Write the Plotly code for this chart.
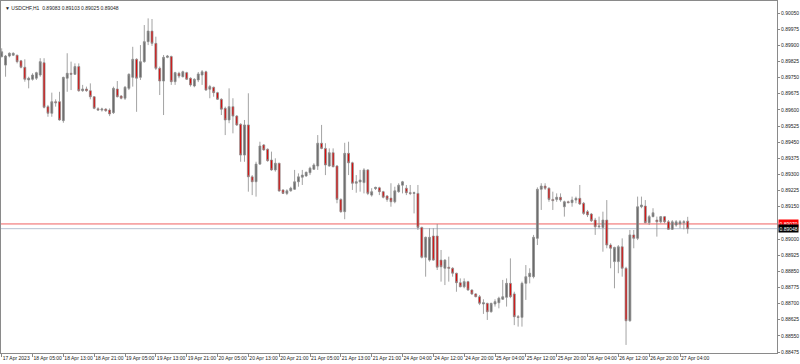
import plotly.graph_objects as go

symbol = "USDCHF,H1"

opens = [0.89847,0.89808,0.89850,0.89854,0.89854,0.89828,0.89798,0.89739,0.89742,0.89747,
0.89762,0.89819,0.89615,0.89584,0.89638,0.89638,0.89550,0.89747,0.89770,0.89765,
0.89801,0.89689,0.89697,0.89689,0.89661,0.89605,0.89599,0.89604,0.89599,0.89587,
0.89697,0.89664,0.89654,0.89700,0.89751,0.89835,0.89751,0.89824,0.89917,0.89966,
0.89909,0.89793,0.89734,0.89844,0.89848,0.89731,0.89770,0.89754,0.89773,0.89747,
0.89711,0.89739,0.89762,0.89777,0.89696,0.89705,0.89680,0.89649,0.89607,0.89553,
0.89615,0.89571,0.89533,0.89390,0.89530,0.89289,0.89266,0.89348,0.89437,0.89417,
0.89367,0.89321,0.89352,0.89228,0.89212,0.89224,0.89231,0.89266,0.89287,0.89293,
0.89308,0.89324,0.89339,0.89445,0.89421,0.89339,0.89401,0.89339,0.89184,0.89127,
0.89398,0.89354,0.89259,0.89265,0.89262,0.89321,0.89204,0.89234,0.89238,0.89220,
0.89200,0.89190,0.89173,0.89220,0.89250,0.89236,0.89215,0.89212,0.89212,0.89054,
0.88915,0.88902,0.89014,0.89014,0.88902,0.88864,0.88869,0.88864,0.88841,0.88797,
0.88778,0.88802,0.88763,0.88745,0.88732,0.88698,0.88701,0.88662,0.88698,0.88704,
0.88720,0.88729,0.88794,0.88745,0.88639,0.88636,0.88794,0.88825,0.88825,0.89003,
0.89231,0.89246,0.89236,0.89184,0.89184,0.89194,0.89150,0.89173,0.89169,0.89181,
0.89189,0.89166,0.89127,0.89116,0.89088,0.89057,0.89054,0.89088,0.88972,0.88895,
0.88895,0.88964,0.88864,0.88620,0.89019,0.89003,0.89150,0.89153,0.89076,0.89104,
0.89088,0.89080,0.89104,0.89080,0.89045,0.89065,0.89070,0.89076,0.89083]

highs = [0.89886,0.89855,0.89867,0.89867,0.89856,0.89832,0.89835,0.89754,0.89770,0.89777,
0.89840,0.89840,0.89623,0.89680,0.89649,0.89684,0.89754,0.89863,0.89824,0.89816,
0.89816,0.89716,0.89708,0.89723,0.89664,0.89612,0.89610,0.89607,0.89607,0.89708,
0.89734,0.89669,0.89711,0.89770,0.89893,0.89840,0.89901,0.89994,0.90025,0.90022,
0.89940,0.89801,0.89855,0.89855,0.89852,0.89777,0.89777,0.89782,0.89777,0.89751,
0.89747,0.89776,0.89785,0.89782,0.89716,0.89708,0.89684,0.89654,0.89615,0.89700,
0.89654,0.89576,0.89538,0.89553,0.89677,0.89297,0.89359,0.89452,0.89441,0.89421,
0.89406,0.89375,0.89354,0.89231,0.89231,0.89243,0.89321,0.89305,0.89321,0.89313,
0.89336,0.89352,0.89483,0.89530,0.89445,0.89421,0.89421,0.89344,0.89189,0.89447,
0.89452,0.89359,0.89297,0.89321,0.89329,0.89324,0.89236,0.89243,0.89243,0.89224,
0.89204,0.89259,0.89243,0.89259,0.89270,0.89251,0.89251,0.89220,0.89251,0.89057,
0.89011,0.89050,0.89050,0.89070,0.88949,0.88906,0.88918,0.88869,0.88843,0.88817,
0.88817,0.88806,0.88766,0.88748,0.88740,0.88720,0.88704,0.88704,0.88720,0.88732,
0.88810,0.88817,0.88910,0.88755,0.88647,0.88802,0.88879,0.88864,0.89019,0.89240,
0.89259,0.89259,0.89240,0.89220,0.89212,0.89212,0.89178,0.89178,0.89197,0.89197,
0.89251,0.89172,0.89135,0.89121,0.89098,0.89104,0.89127,0.89181,0.88980,0.88964,
0.88972,0.89003,0.88871,0.89042,0.89042,0.89197,0.89197,0.89181,0.89112,0.89143,
0.89104,0.89107,0.89107,0.89088,0.89088,0.89088,0.89088,0.89088,0.89103]

lows = [0.89844,0.89754,0.89844,0.89850,0.89816,0.89793,0.89731,0.89700,0.89736,0.89739,
0.89754,0.89607,0.89568,0.89568,0.89615,0.89550,0.89540,0.89684,0.89692,0.89762,
0.89684,0.89684,0.89684,0.89649,0.89603,0.89596,0.89592,0.89591,0.89571,0.89581,
0.89658,0.89649,0.89646,0.89692,0.89708,0.89591,0.89739,0.89819,0.89901,0.89897,
0.89785,0.89669,0.89576,0.89840,0.89716,0.89716,0.89747,0.89751,0.89739,0.89708,
0.89705,0.89729,0.89716,0.89689,0.89654,0.89661,0.89646,0.89576,0.89483,0.89538,
0.89491,0.89525,0.89359,0.89359,0.89220,0.89204,0.89197,0.89344,0.89410,0.89359,
0.89317,0.89313,0.89220,0.89209,0.89204,0.89220,0.89228,0.89243,0.89251,0.89289,
0.89297,0.89321,0.89321,0.89417,0.89297,0.89336,0.89333,0.89166,0.89122,0.89092,
0.89297,0.89228,0.89215,0.89220,0.89212,0.89204,0.89197,0.89228,0.89204,0.89189,
0.89173,0.89150,0.89166,0.89215,0.89212,0.89204,0.89204,0.89119,0.89042,0.88910,
0.88825,0.88895,0.88899,0.88856,0.88802,0.88786,0.88802,0.88825,0.88755,0.88776,
0.88771,0.88760,0.88740,0.88729,0.88693,0.88652,0.88624,0.88658,0.88686,0.88678,
0.88717,0.88686,0.88725,0.88600,0.88593,0.88593,0.88717,0.88794,0.88817,0.88972,
0.89135,0.89228,0.89173,0.89135,0.89173,0.89173,0.89104,0.89166,0.89150,0.89166,
0.89158,0.89112,0.89102,0.89079,0.89019,0.89050,0.88941,0.88957,0.88864,0.88771,
0.88841,0.88825,0.88508,0.88616,0.88957,0.88995,0.89143,0.89073,0.89065,0.89101,
0.89011,0.89073,0.89073,0.89042,0.89042,0.89057,0.89050,0.89045,0.89025]

closes = [0.89870,0.89850,0.89863,0.89863,0.89824,0.89798,0.89742,0.89747,0.89762,0.89773,
0.89824,0.89612,0.89584,0.89638,0.89633,0.89553,0.89751,0.89770,0.89765,0.89801,
0.89689,0.89697,0.89689,0.89661,0.89607,0.89599,0.89604,0.89596,0.89581,0.89700,
0.89661,0.89654,0.89705,0.89765,0.89835,0.89747,0.89824,0.89917,0.89966,0.89909,
0.89793,0.89734,0.89844,0.89850,0.89731,0.89773,0.89757,0.89777,0.89742,0.89716,
0.89742,0.89767,0.89777,0.89692,0.89708,0.89680,0.89649,0.89603,0.89553,0.89615,
0.89571,0.89530,0.89390,0.89530,0.89289,0.89266,0.89348,0.89432,0.89414,0.89364,
0.89321,0.89352,0.89223,0.89212,0.89224,0.89236,0.89266,0.89289,0.89297,0.89310,
0.89329,0.89344,0.89445,0.89421,0.89344,0.89401,0.89336,0.89184,0.89127,0.89398,
0.89354,0.89259,0.89266,0.89274,0.89321,0.89212,0.89220,0.89240,0.89220,0.89194,
0.89184,0.89173,0.89224,0.89250,0.89266,0.89215,0.89212,0.89215,0.89054,0.88915,
0.89008,0.89008,0.88902,0.88869,0.88871,0.88902,0.88864,0.88841,0.88797,0.88778,
0.88802,0.88763,0.88745,0.88732,0.88701,0.88704,0.88662,0.88701,0.88709,0.88725,
0.88732,0.88794,0.88732,0.88639,0.88636,0.88794,0.88825,0.88841,0.89008,0.89231,
0.89246,0.89236,0.89184,0.89178,0.89194,0.89181,0.89173,0.89169,0.89181,0.89189,
0.89163,0.89119,0.89112,0.89085,0.89057,0.89060,0.89088,0.88972,0.88957,0.88961,
0.88964,0.88864,0.88620,0.89019,0.89003,0.89150,0.89158,0.89076,0.89104,0.89122,
0.89080,0.89104,0.89080,0.89045,0.89080,0.89080,0.89080,0.89080,0.89048]

ask_price = 0.89070

time_tick_bars = [0, 8, 16, 24, 32, 40, 48, 56, 64, 72, 80, 88, 96, 104, 112, 120,
                  128, 136, 144, 152, 160, 168, 176]
time_tick_labels = ["17 Apr 2023", "18 Apr 05:00", "18 Apr 13:00", "18 Apr 21:00",
                    "19 Apr 05:00", "19 Apr 13:00", "19 Apr 21:00", "20 Apr 05:00",
                    "20 Apr 13:00", "20 Apr 21:00", "21 Apr 05:00", "21 Apr 13:00",
                    "21 Apr 21:00", "24 Apr 04:00", "24 Apr 12:00", "24 Apr 20:00",
                    "25 Apr 04:00", "25 Apr 12:00", "25 Apr 20:00", "26 Apr 04:00",
                    "26 Apr 12:00", "26 Apr 20:00", "27 Apr 04:00"]

price_ticks = [0.90050, 0.89975, 0.89900, 0.89825, 0.89750, 0.89675, 0.89600, 0.89525,
               0.89450, 0.89375, 0.89300, 0.89225, 0.89150, 0.89000, 0.88925,
               0.88850, 0.88775, 0.88700, 0.88625, 0.88550, 0.88475]

x_range = [-0.18, 201.17]
y_range = [0.884704, 0.901058]

bars = list(range(len(opens)))
FONT = "Liberation Sans, Arial, sans-serif"
FS = 5

fig = go.Figure()
fig.add_trace(go.Candlestick(
    x=bars, open=opens, high=highs, low=lows, close=closes,
    increasing=dict(fillcolor="#6a6a6a", line=dict(color="#8c8c8c", width=0.8)),
    decreasing=dict(fillcolor="#e00000", line=dict(color="#8c8c8c", width=0.8)),
    whiskerwidth=0, showlegend=False, hoverinfo="skip",
))

last_close = closes[-1]
fig.add_shape(type="line", xref="paper", x0=0, x1=1, yref="y", y0=ask_price, y1=ask_price,
              line=dict(color="#f06060", width=1), layer="below")
fig.add_shape(type="line", xref="paper", x0=0, x1=1, yref="y", y0=last_close, y1=last_close,
              line=dict(color="#b8c2d2", width=1), layer="below")

fig.add_annotation(xref="paper", x=1, xanchor="left", xshift=1, yref="y", y=ask_price,
                   text=f"{ask_price:.5f}", showarrow=False, bgcolor="#ff0000",
                   font=dict(family=FONT, size=FS, color="white"), borderpad=0.5)
fig.add_annotation(xref="paper", x=1, xanchor="left", xshift=1, yref="y", y=last_close,
                   text=f"{last_close:.5f}", showarrow=False, bgcolor="#000000",
                   font=dict(family=FONT, size=FS, color="white"), borderpad=0.5)

title_text = "▼ " + symbol + "  " + " ".join(f"{v:.5f}" for v in
                                             (opens[-1], highs[-1], lows[-1], closes[-1]))
fig.add_annotation(xref="paper", x=0, xanchor="left", xshift=2, yref="paper", y=1,
                   yanchor="top", yshift=-2, text=title_text, showarrow=False,
                   font=dict(family=FONT, size=FS, color="#222222"))

fig.update_layout(
    width=800, height=364,
    margin=dict(l=1, r=23, t=1, b=11, pad=0, autoexpand=False),
    paper_bgcolor="white", plot_bgcolor="white",
    boxgap=0.3,
    font=dict(family=FONT, size=FS, color="#222222"),
    xaxis=dict(range=x_range, tickmode="array", tickvals=time_tick_bars,
               ticktext=time_tick_labels, ticklabelposition="outside right",
               tickangle=0, automargin=False,
               ticks="outside", ticklen=3, tickcolor="#888888", showgrid=False,
               zeroline=False, showline=True, mirror=True, linecolor="#8a8a8a",
               linewidth=1, rangeslider=dict(visible=False),
               tickfont=dict(family=FONT, size=FS, color="#222222")),
    yaxis=dict(range=y_range, side="right", tickmode="array", tickvals=price_ticks,
               ticktext=[f"{v:.5f}" for v in price_ticks], ticks="outside", ticklen=2,
               automargin=False,
               tickcolor="#888888", showgrid=False, zeroline=False, showline=True,
               mirror=True, linecolor="#8a8a8a", linewidth=1,
               tickfont=dict(family=FONT, size=FS, color="#222222")),
)

fig.write_html("out.html")
